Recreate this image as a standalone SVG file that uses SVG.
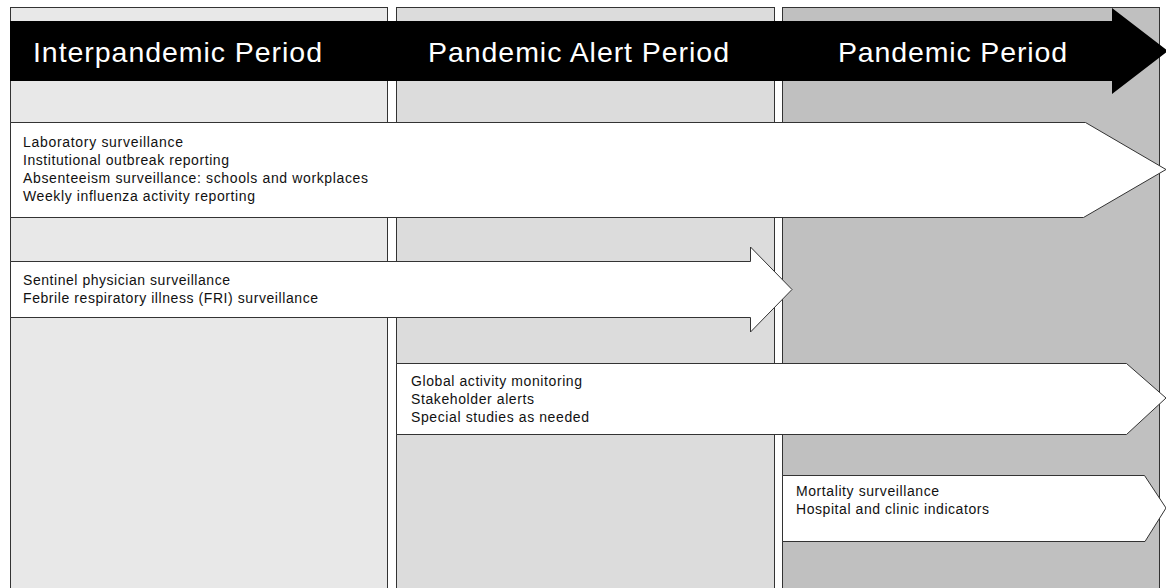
<svg xmlns="http://www.w3.org/2000/svg" width="1166" height="588" viewBox="0 0 1166 588">
<style>
.col{stroke:#333;stroke-width:1}
.arr{fill:#fff;stroke:#333;stroke-width:1}
.hd{font-family:"Liberation Sans",Arial,sans-serif;font-size:28.5px;fill:#fff}
.tx{font-family:"Liberation Sans",Arial,sans-serif;font-size:14px;fill:#111}
</style>
<rect width="1166" height="588" fill="#fff"/>
<g id="col-interpandemic"><rect class="col" x="10.5" y="7.5" width="377" height="600" fill="#e8e8e8"/></g>
<g id="col-alert"><rect class="col" x="396.5" y="7.5" width="378" height="600" fill="#dcdcdc"/></g>
<g id="col-pandemic"><rect class="col" x="782.5" y="7.5" width="377" height="600" fill="#c0c0c0"/></g>
<g id="header">
<polygon points="10,21 1112,21 1112,8 1168,51 1112,94 1112,81 10,81" fill="#000"/>
<text class="hd" x="33" y="62" textLength="289" lengthAdjust="spacing">Interpandemic Period</text>
<text class="hd" x="428" y="62" textLength="301" lengthAdjust="spacing">Pandemic Alert Period</text>
<text class="hd" x="838" y="62" textLength="229" lengthAdjust="spacing">Pandemic Period</text>
</g>
<g id="arrow-lab">
<polygon class="arr" points="10.5,122.5 1085.5,122.5 1166,169.5 1083.5,217.5 10.5,217.5"/>
<text class="tx" x="23" y="147" textLength="160" lengthAdjust="spacing">Laboratory surveillance</text>
<text class="tx" x="23" y="165" textLength="206" lengthAdjust="spacing">Institutional outbreak reporting</text>
<text class="tx" x="23" y="183" textLength="345" lengthAdjust="spacing">Absenteeism surveillance: schools and workplaces</text>
<text class="tx" x="23" y="201" textLength="232" lengthAdjust="spacing">Weekly influenza activity reporting</text>
</g>
<g id="arrow-sentinel">
<polygon class="arr" points="10.5,261.5 750.5,261.5 750.5,247 792,289.5 750.5,332 750.5,317.5 10.5,317.5"/>
<text class="tx" x="23" y="285" textLength="207" lengthAdjust="spacing">Sentinel physician surveillance</text>
<text class="tx" x="23" y="303" textLength="295" lengthAdjust="spacing">Febrile respiratory illness (FRI) surveillance</text>
</g>
<g id="arrow-global">
<polygon class="arr" points="396.5,363.5 1126.5,363.5 1166,398 1126.5,434.5 396.5,434.5"/>
<text class="tx" x="411" y="386" textLength="171" lengthAdjust="spacing">Global activity monitoring</text>
<text class="tx" x="411" y="404" textLength="123" lengthAdjust="spacing">Stakeholder alerts</text>
<text class="tx" x="411" y="422" textLength="178" lengthAdjust="spacing">Special studies as needed</text>
</g>
<g id="arrow-mortality">
<polygon class="arr" points="782.5,475.5 1144.5,475.5 1166,508 1145,541.5 782.5,541.5"/>
<text class="tx" x="796" y="496" textLength="143" lengthAdjust="spacing">Mortality surveillance</text>
<text class="tx" x="796" y="514" textLength="193" lengthAdjust="spacing">Hospital and clinic indicators</text>
</g>
<g id="connectors"></g>
</svg>
